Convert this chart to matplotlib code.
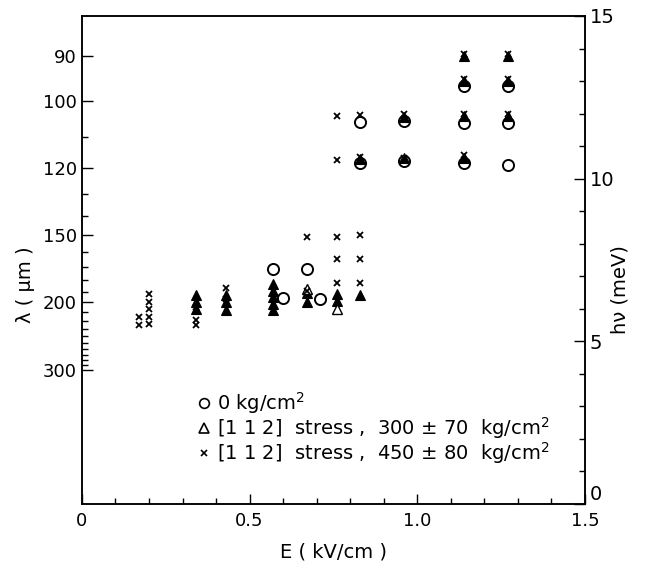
import numpy as np
import matplotlib
matplotlib.use("Agg")
from matplotlib import pyplot as plt
from matplotlib.lines import Line2D
from matplotlib.ticker import FixedLocator, MultipleLocator

plt.rcParams['font.family'] = ['DejaVu Sans']

HC = 1239.84  # meV * um

# 0 kg/cm2 (open circles)
e_circ = [0.57, 0.60, 0.67, 0.71, 0.83, 0.83, 0.96, 0.96, 1.14, 1.14, 1.14, 1.27, 1.27, 1.27]
h_circ = [7.23, 6.33, 7.23, 6.30, 11.75, 10.49, 11.76, 10.53, 12.84, 11.71, 10.48, 12.84, 11.71, 10.43]

# [112] stress 300 kg/cm2 (triangles, mostly overlapped -> solid)
e_tri = [0.34, 0.34, 0.34, 0.43, 0.43, 0.43, 0.57, 0.57, 0.57, 0.57, 0.57,
         0.67, 0.67, 0.76, 0.76, 0.83, 0.83, 0.96, 0.96,
         1.14, 1.14, 1.14, 1.14, 1.27, 1.27, 1.27]
h_tri = [6.43, 6.20, 6.00, 6.43, 6.20, 5.95, 6.75, 6.55, 6.35, 6.15, 5.95,
         6.50, 6.20, 6.45, 6.25, 6.43, 10.60, 11.90, 10.62,
         13.77, 13.00, 11.92, 10.65, 13.77, 13.00, 11.92]
e_tri_open = [0.67, 0.76]
h_tri_open = [6.62, 6.00]

# [112] stress 450 kg/cm2 (crosses)
e_x = [0.17, 0.17, 0.20, 0.20, 0.20, 0.20, 0.20, 0.34, 0.34, 0.34, 0.43, 0.43,
       0.67, 0.67, 0.76, 0.76, 0.76, 0.76, 0.76, 0.83, 0.83, 0.83, 0.83, 0.83,
       0.96, 0.96, 1.14, 1.14, 1.14, 1.14, 1.27, 1.27, 1.27]
h_x = [5.76, 5.51, 6.45, 6.22, 5.99, 5.76, 5.54, 6.05, 5.66, 5.51, 6.64, 6.30,
       8.22, 6.55, 11.94, 10.58, 8.22, 7.53, 6.79, 11.97, 10.66, 8.28, 7.53, 6.79,
       11.99, 10.64, 13.82, 13.07, 12.00, 10.73, 13.82, 13.07, 12.00]

lam_major = [90, 100, 120, 150, 200, 300]
lam_minor = [110, 130, 140, 160, 170, 180, 190, 210, 220, 230, 240, 250, 260, 270, 280, 290]

labels = ["0 kg/cm$^2$",
          "[1 1 2]  stress ,  300 ± 70  kg/cm$^2$",
          "[1 1 2]  stress ,  450 ± 80  kg/cm$^2$"]

fig = plt.figure(figsize=(6.45, 5.61), dpi=100)
ax = fig.add_axes([0.127, 0.1016, 0.78, 0.8699])
ax2 = ax.twinx()

ax.plot(e_tri, h_tri, '^', color='black', ms=7, mec='black', mew=0.8, ls='none')
ax.plot(e_tri_open, h_tri_open, '^', color='black', ms=7, mfc='white', mew=1.0, ls='none')
ax.plot(e_x, h_x, 'x', color='black', ms=5, mew=1.3, ls='none')
ax.plot(e_circ, h_circ, 'o', color='black', ms=8, mfc='none', mew=1.4, ls='none')

ax.set_xlim(0, 1.5)
ax.set_ylim(0, 15)
ax.set_xticks([0, 0.5, 1.0, 1.5])
ax.set_xticklabels(["0", "0.5", "1.0", "1.5"])
ax.xaxis.set_minor_locator(MultipleLocator(0.1))

# wavelength scale on the left
ax.yaxis.set_major_locator(FixedLocator([HC / l for l in lam_major]))
ax.yaxis.set_minor_locator(FixedLocator([HC / l for l in lam_minor]))
ax.set_yticklabels([str(l) for l in lam_major])
ax.tick_params(which='both', direction='in', labelsize=13, width=1)
ax.tick_params(axis='y', which='major', length=8)
ax.tick_params(axis='x', which='major', length=7, pad=6)
ax.tick_params(which='minor', length=4)
ax.set_xlabel("E ( kV/cm )", fontsize=14, labelpad=9)
ax.set_ylabel("λ ( μm )", fontsize=14)
ax.yaxis.set_label_coords(-0.093, 0.45)

# photon energy scale on the right
ax2.set_ylim(ax.get_ylim())
ax2.set_yticks([0, 5, 10, 15])
ax2.yaxis.set_minor_locator(MultipleLocator(1))
ax2.tick_params(which='both', direction='in', labelsize=14, width=1)
ax2.tick_params(which='major', length=8)
ax2.tick_params(which='minor', length=4)
ax2.get_yticklabels()[0].set_verticalalignment('bottom')
ax2.set_ylabel("hν (meV)", fontsize=14)
ax2.yaxis.set_label_coords(1.05, 0.44)

for a in (ax, ax2):
    for s in a.spines.values():
        s.set_linewidth(1.1)

handles = [Line2D([], [], marker='o', ls='none', color='black', mfc='none', ms=7, mew=1.2),
           Line2D([], [], marker='^', ls='none', color='black', mfc='none', ms=7, mew=1.2),
           Line2D([], [], marker='x', ls='none', color='black', ms=5, mew=1.2)]
ax2.legend(handles, labels, loc='lower left', bbox_to_anchor=(0.215, 0.062), frameon=False,
           fontsize=14, handlelength=0.6, handletextpad=0.4, labelspacing=-0.05,
           borderaxespad=0)

fig.savefig("out.png", dpi=100)
